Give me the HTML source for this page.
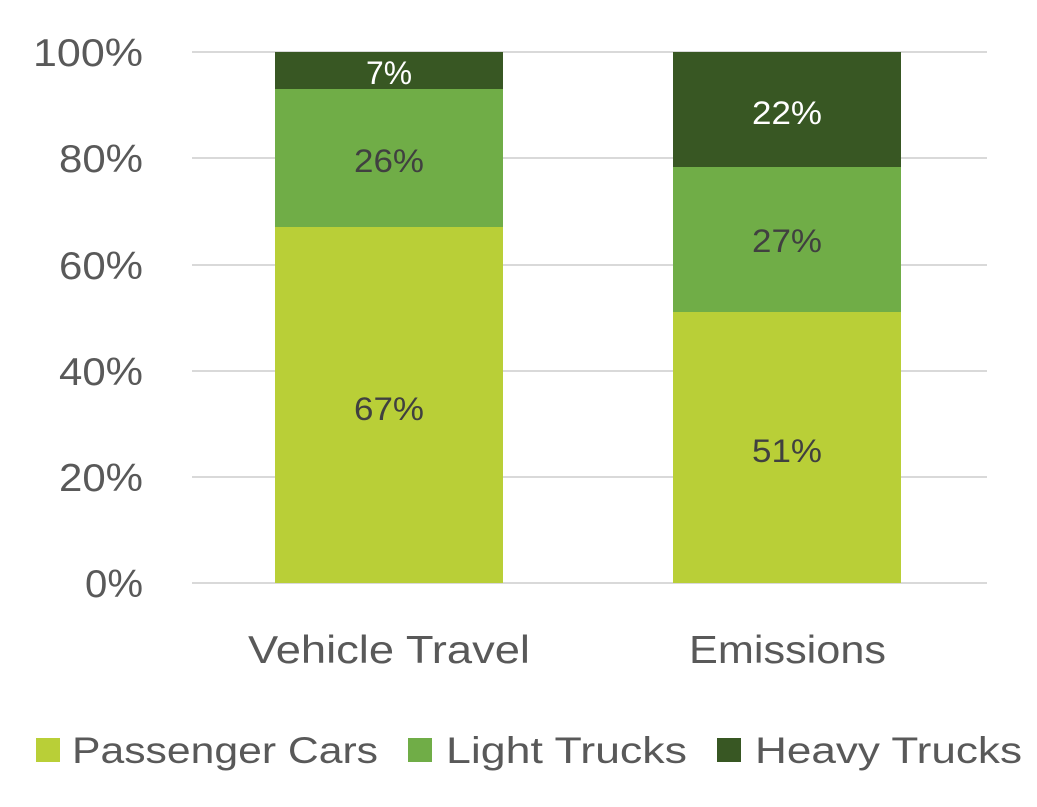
<!DOCTYPE html>
<html><head><meta charset="utf-8"><style>
body{margin:0;background:#fff}
</style></head><body>
<svg width="1037" height="802" xmlns="http://www.w3.org/2000/svg" font-family="Liberation Sans, sans-serif">
<g stroke="#d9d9d9" stroke-width="2">
<line x1="192" x2="987" y1="52" y2="52"/><line x1="192" x2="987" y1="158" y2="158"/>
<line x1="192" x2="987" y1="265" y2="265"/><line x1="192" x2="987" y1="371" y2="371"/>
<line x1="192" x2="987" y1="477" y2="477"/><line x1="192" x2="987" y1="583" y2="583"/>
</g>
<rect x="275" y="227" width="228" height="356" fill="#B9CF37"/>
<rect x="275" y="89" width="228" height="138" fill="#70AD47"/>
<rect x="275" y="52" width="228" height="37" fill="#385723"/>
<rect x="673" y="312" width="228" height="271" fill="#B9CF37"/>
<rect x="673" y="167" width="228" height="145" fill="#70AD47"/>
<rect x="673" y="52" width="228" height="115" fill="#385723"/>
<g font-size="32" text-anchor="middle" fill="#404040" lengthAdjust="spacingAndGlyphs">
<text x="389" y="84" fill="#fff" textLength="46" lengthAdjust="spacingAndGlyphs">7%</text>
<text x="389" y="172" textLength="70" lengthAdjust="spacingAndGlyphs">26%</text>
<text x="389" y="420" textLength="70" lengthAdjust="spacingAndGlyphs">67%</text>
<text x="787" y="124" fill="#fff" textLength="70" lengthAdjust="spacingAndGlyphs">22%</text>
<text x="787" y="252" textLength="70" lengthAdjust="spacingAndGlyphs">27%</text>
<text x="787" y="462" textLength="70" lengthAdjust="spacingAndGlyphs">51%</text>
</g>
<g font-size="39" text-anchor="end" fill="#595959">
<text x="143" y="66" textLength="110" lengthAdjust="spacingAndGlyphs">100%</text>
<text x="143" y="172" textLength="84" lengthAdjust="spacingAndGlyphs">80%</text>
<text x="143" y="279" textLength="84" lengthAdjust="spacingAndGlyphs">60%</text>
<text x="143" y="385" textLength="84" lengthAdjust="spacingAndGlyphs">40%</text>
<text x="143" y="491" textLength="84" lengthAdjust="spacingAndGlyphs">20%</text>
<text x="143" y="597" textLength="58" lengthAdjust="spacingAndGlyphs">0%</text>
</g>
<g font-size="39" fill="#595959">
<text x="248" y="663" textLength="282" lengthAdjust="spacingAndGlyphs">Vehicle Travel</text>
<text x="689" y="663" textLength="197" lengthAdjust="spacingAndGlyphs">Emissions</text>
</g>
<g font-size="37" fill="#595959">
<rect x="36" y="738" width="24" height="24" fill="#B9CF37"/><text x="72" y="763" textLength="306" lengthAdjust="spacingAndGlyphs">Passenger Cars</text>
<rect x="408" y="738" width="24" height="24" fill="#70AD47"/><text x="446" y="763" textLength="241" lengthAdjust="spacingAndGlyphs">Light Trucks</text>
<rect x="717" y="738" width="24" height="24" fill="#385723"/><text x="755" y="763" textLength="267" lengthAdjust="spacingAndGlyphs">Heavy Trucks</text>
</g>
</svg>
</body></html>
